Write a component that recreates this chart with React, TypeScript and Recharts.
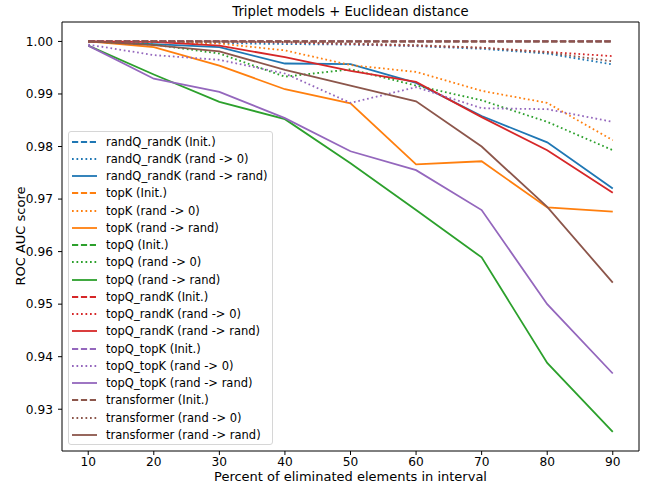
import { LineChart, Line, XAxis, YAxis, ReferenceLine } from 'recharts';

const percents = [10, 20, 30, 40, 50, 60, 70, 80, 90];

// randQ_randK
const randQRandKInit = [1.0, 1.0, 1.0, 1.0, 1.0, 1.0, 1.0, 1.0, 1.0];
const randQRandKZero = [1.0, 1.0, 0.9997, 0.9995, 0.9994, 0.9991, 0.9986, 0.9977, 0.9956];
const randQRandKRand = [1.0, 0.9995, 0.9989, 0.9958, 0.9957, 0.9921, 0.9858, 0.9808, 0.972];
// topK
const topKInit = [1.0, 1.0, 1.0, 1.0, 1.0, 1.0, 1.0, 1.0, 1.0];
const topKZero = [1.0, 0.9999, 0.9996, 0.9983, 0.9955, 0.9942, 0.9906, 0.9883, 0.9812];
const topKRand = [1.0, 0.9989, 0.9954, 0.9909, 0.9882, 0.9766, 0.9772, 0.9684, 0.9676];
// topQ
const topQInit = [1.0, 1.0, 1.0, 1.0, 1.0, 1.0, 1.0, 1.0, 1.0];
const topQZero = [1.0, 0.9994, 0.9977, 0.9933, 0.9947, 0.9916, 0.9888, 0.9847, 0.9793];
const topQRand = [0.9992, 0.9937, 0.9885, 0.9852, 0.9768, 0.9679, 0.9589, 0.9388, 0.9257];
// topQ_randK
const topQRandKInit = [1.0, 1.0, 1.0, 1.0, 1.0, 1.0, 1.0, 1.0, 1.0];
const topQRandKZero = [1.0, 1.0, 1.0, 0.9998, 0.9995, 0.9992, 0.9988, 0.998, 0.9972];
const topQRandKRand = [1.0, 0.9999, 0.9992, 0.997, 0.9944, 0.9923, 0.9856, 0.9793, 0.9712];
// topQ_topK
const topQTopKInit = [1.0, 1.0, 1.0, 1.0, 1.0, 1.0, 1.0, 1.0, 1.0];
const topQTopKZero = [0.9994, 0.9974, 0.9965, 0.9939, 0.9883, 0.9913, 0.9873, 0.9871, 0.9847];
const topQTopKRand = [0.9992, 0.9929, 0.9904, 0.9854, 0.9791, 0.9755, 0.9679, 0.95, 0.9368];
// transformer
const transformerInit = [1.0, 1.0, 1.0, 1.0, 1.0, 1.0, 1.0, 1.0, 1.0];
const transformerZero = [1.0, 1.0, 1.0, 0.9999, 0.9996, 0.9993, 0.9988, 0.9979, 0.9962];
const transformerRand = [1.0, 0.9993, 0.9981, 0.9946, 0.9916, 0.9886, 0.98, 0.9685, 0.9541];

const yTicks = [0.93, 0.94, 0.95, 0.96, 0.97, 0.98, 0.99, 1.0];
const xTicks = percents;

const DASH = '6.2 2.7';
const DOT = '1.7 2.8';

const series = [
  { key: 'a0', name: 'randQ_randK (Init.)', values: randQRandKInit, color: '#1f77b4', dash: DASH },
  { key: 'a1', name: 'randQ_randK (rand -> 0)', values: randQRandKZero, color: '#1f77b4', dash: DOT },
  { key: 'a2', name: 'randQ_randK (rand -> rand)', values: randQRandKRand, color: '#1f77b4', dash: undefined },
  { key: 'b0', name: 'topK (Init.)', values: topKInit, color: '#ff7f0e', dash: DASH },
  { key: 'b1', name: 'topK (rand -> 0)', values: topKZero, color: '#ff7f0e', dash: DOT },
  { key: 'b2', name: 'topK (rand -> rand)', values: topKRand, color: '#ff7f0e', dash: undefined },
  { key: 'c0', name: 'topQ (Init.)', values: topQInit, color: '#2ca02c', dash: DASH },
  { key: 'c1', name: 'topQ (rand -> 0)', values: topQZero, color: '#2ca02c', dash: DOT },
  { key: 'c2', name: 'topQ (rand -> rand)', values: topQRand, color: '#2ca02c', dash: undefined },
  { key: 'd0', name: 'topQ_randK (Init.)', values: topQRandKInit, color: '#d62728', dash: DASH },
  { key: 'd1', name: 'topQ_randK (rand -> 0)', values: topQRandKZero, color: '#d62728', dash: DOT },
  { key: 'd2', name: 'topQ_randK (rand -> rand)', values: topQRandKRand, color: '#d62728', dash: undefined },
  { key: 'e0', name: 'topQ_topK (Init.)', values: topQTopKInit, color: '#9467bd', dash: DASH },
  { key: 'e1', name: 'topQ_topK (rand -> 0)', values: topQTopKZero, color: '#9467bd', dash: DOT },
  { key: 'e2', name: 'topQ_topK (rand -> rand)', values: topQTopKRand, color: '#9467bd', dash: undefined },
  { key: 'f0', name: 'transformer (Init.)', values: transformerInit, color: '#8c564b', dash: DASH },
  { key: 'f1', name: 'transformer (rand -> 0)', values: transformerZero, color: '#8c564b', dash: DOT },
  { key: 'f2', name: 'transformer (rand -> rand)', values: transformerRand, color: '#8c564b', dash: undefined },
];

const data = percents.map((p, i) => {
  const row: Record<string, number> = { p };
  series.forEach((s) => {
    row[s.key] = s.values[i];
  });
  return row;
});

const font = '"DejaVu Sans", sans-serif';
const X_MIN = 6;
const X_MAX = 94;
const Y_MIN = 0.92205;
const Y_MAX = 1.0037;

const App = () => {
  return (
    <div style={{ position: 'absolute', left: 0, top: 0, width: 646, height: 487, background: '#fff', fontFamily: font }}>
      <LineChart width={646} height={487} data={data} margin={{ top: 22, right: 7, left: 0, bottom: 0 }}>
        <XAxis
          dataKey="p"
          type="number"
          domain={[X_MIN, X_MAX]}
          ticks={xTicks}
          allowDataOverflow
          height={36}
          tickSize={4}
          tickMargin={2}
          tick={{ fontSize: 12.2, fill: '#000', fontFamily: font }}
          stroke="#000"
          tickLine={{ stroke: '#000' }}
        />
        <YAxis
          type="number"
          domain={[Y_MIN, Y_MAX]}
          ticks={yTicks}
          allowDataOverflow
          width={62}
          tickSize={4}
          tickMargin={5}
          tickFormatter={(v: number) => v.toFixed(2)}
          tick={{ fontSize: 12.2, fill: '#000', fontFamily: font }}
          stroke="#000"
          tickLine={{ stroke: '#000' }}
        />
        <ReferenceLine y={Y_MAX} stroke="#000" strokeWidth={1} />
        <ReferenceLine x={X_MAX} stroke="#000" strokeWidth={1} />
        {series.map((s) => (
          <Line
            key={s.key}
            dataKey={s.key}
            name={s.name}
            stroke={s.color}
            strokeWidth={1.8}
            strokeDasharray={s.dash}
            dot={false}
            activeDot={false}
            isAnimationActive={false}
            strokeLinecap="butt"
          />
        ))}
      </LineChart>

      <div style={{ position: 'absolute', left: 62, width: 577, top: 3, textAlign: 'center', fontSize: 13.2, lineHeight: '17px' }}>
        Triplet models + Euclidean distance
      </div>
      <div style={{ position: 'absolute', left: 62, width: 577, top: 469, textAlign: 'center', fontSize: 13, lineHeight: '16px' }}>
        Percent of eliminated elements in interval
      </div>
      <div
        style={{
          position: 'absolute',
          left: 21,
          top: 236,
          fontSize: 13,
          lineHeight: '16px',
          whiteSpace: 'nowrap',
          transform: 'translate(-50%, -50%) rotate(-90deg)',
        }}
      >
        ROC AUC score
      </div>

      <div
        style={{
          position: 'absolute',
          left: 68,
          top: 131,
          width: 205,
          height: 314,
          border: '1px solid #d6d6d6',
          borderRadius: 3,
          background: 'rgba(255,255,255,0.8)',
          boxSizing: 'border-box',
          paddingTop: 1,
        }}
      >
        {series.map((s) => (
          <div key={s.key} style={{ display: 'flex', alignItems: 'center', height: 17.25, fontSize: 11.5, whiteSpace: 'nowrap' }}>
            <svg width={25} height={6} style={{ marginLeft: 3, marginRight: 9, flex: 'none' }}>
              <line x1={0} y1={3} x2={25} y2={3} stroke={s.color} strokeWidth={1.8} strokeDasharray={s.dash} />
            </svg>
            <span>{s.name}</span>
          </div>
        ))}
      </div>
    </div>
  );
};

export default App;
